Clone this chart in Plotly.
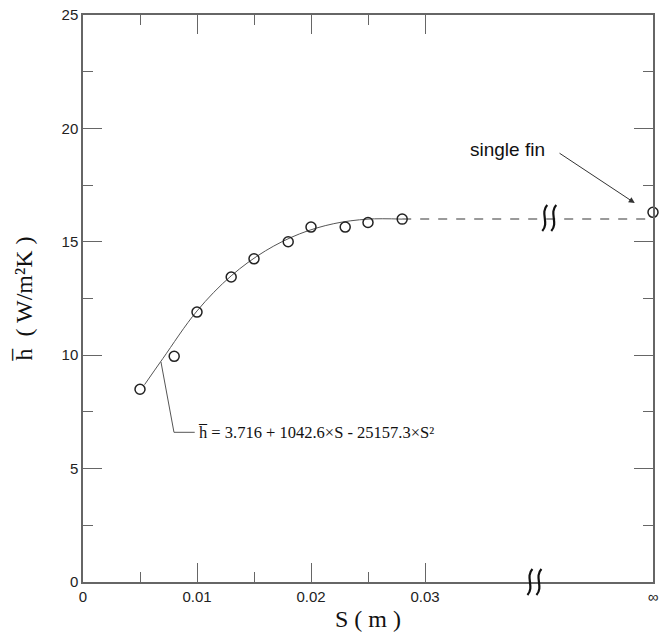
import plotly.graph_objects as go

# measured points
S_pts = [0.005, 0.008, 0.010, 0.013, 0.015, 0.018, 0.020, 0.023, 0.025, 0.028]
h_pts = [8.5, 9.95, 11.9, 13.45, 14.25, 15.0, 15.65, 15.65, 15.85, 16.0]
# single fin (plotted at the "infinity" position)
S_inf = [0.05]
h_inf = [16.3]
# fitted curve as drawn
S_fit = [0.0054, 0.007, 0.010, 0.013, 0.016, 0.019, 0.022, 0.025, 0.028]
h_fit = [8.7, 9.85, 11.95, 13.5, 14.6, 15.35, 15.8, 16.0, 16.0]
# dashed asymptote
S_dash = [0.028, 0.05]
h_dash = [16.0, 16.0]

x_tickvals = [0, 0.01, 0.02, 0.03, 0.05]
x_ticktext = ["0", "0.01", "0.02", "0.03", "∞"]
y_tickvals = [0, 5, 10, 15, 20, 25]

X_MAX = 0.05
Y_MAX = 25

axcol = "#666666"
fig = go.Figure()
fig.add_trace(go.Scatter(x=S_dash, y=h_dash, mode="lines",
                         line=dict(color="#9a9a9a", width=2, dash="dash"), showlegend=False))
fig.add_trace(go.Scatter(x=S_fit, y=h_fit, mode="lines", line_shape="spline",
                         line=dict(color="#555555", width=1), showlegend=False))
fig.add_trace(go.Scatter(x=S_pts + S_inf, y=h_pts + h_inf, mode="markers", cliponaxis=False,
                         marker=dict(symbol="circle-open", size=10, color="#222222",
                                     line=dict(width=1.5)), showlegend=False))

# axis-break marks (two wavy strokes each), drawn in pixel units around an anchor
for (xa, ya) in [(0.0409, 16.05), (0.0396, 0)]:
    for dx in (-4.5, 4.5):
        path = "M {a} 13 C {b} 5, {c} -5, {d} -13".format(a=dx + 2.5, b=dx - 5, c=dx + 5, d=dx - 2.5)
        fig.add_shape(type="path", path=path, xsizemode="pixel", ysizemode="pixel",
                      xanchor=xa / X_MAX, yanchor=ya / Y_MAX, xref="paper", yref="paper",
                      line=dict(color="#111111", width=2.2), layer="above")

# leader line for formula
fig.add_shape(type="path", path="M 0.00684 9.7 L 0.00798 6.6 L 0.0098 6.6",
              line=dict(color="#555555", width=1))
fig.add_annotation(x=0.0099, y=6.6, xanchor="left", text="h̅ = 3.716 + 1042.6×S - 25157.3×S²",
                   showarrow=False, font=dict(family="Liberation Serif", size=16.5, color="#111111"))

fig.add_annotation(x=0.0484, y=16.71, ax=0.04167, ay=18.95, axref="x", ayref="y",
                   text="", showarrow=True, arrowhead=2, arrowsize=1.2, arrowwidth=1,
                   arrowcolor="#333333")
fig.add_annotation(x=0.0372, y=19.05, text="single fin", showarrow=False,
                   font=dict(family="Liberation Sans", size=19, color="#111111"))

fig.update_xaxes(range=[0, X_MAX], tickvals=x_tickvals, ticktext=x_ticktext,
                 ticks="inside", ticklen=19, tickcolor=axcol, showline=True, linecolor=axcol,
                 linewidth=1.5, mirror="ticks", showgrid=False, zeroline=False,
                 ticklabeloverflow="allow",
                 minor=dict(tickvals=[0.005, 0.015, 0.025], ticklen=10, ticks="inside", tickcolor=axcol),
                 tickfont=dict(family="Liberation Sans", size=15, color="#222222"),
                 title=dict(text="S ( m )", font=dict(family="Liberation Serif", size=24, color="#111111"),
                            standoff=6))
fig.update_yaxes(range=[0, Y_MAX], tickvals=y_tickvals,
                 ticks="inside", ticklen=19, tickcolor=axcol, showline=True, linecolor=axcol,
                 linewidth=1.5, mirror="ticks", showgrid=False, zeroline=False,
                 ticklabeloverflow="allow",
                 minor=dict(tickvals=[2.5, 7.5, 12.5, 17.5, 22.5], ticklen=10, ticks="inside", tickcolor=axcol),
                 tickfont=dict(family="Liberation Sans", size=15, color="#222222"),
                 title=dict(text="h̅  ( W/m²K )", font=dict(family="Liberation Serif", size=24, color="#111111"),
                            standoff=22))

fig.update_layout(width=672, height=644, plot_bgcolor="white", paper_bgcolor="white",
                  margin=dict(l=83, r=19, t=15, b=62, autoexpand=False))
fig.write_html("out.html", config={"displayModeBar": False},
               post_script="document.body.style.margin='0';")
